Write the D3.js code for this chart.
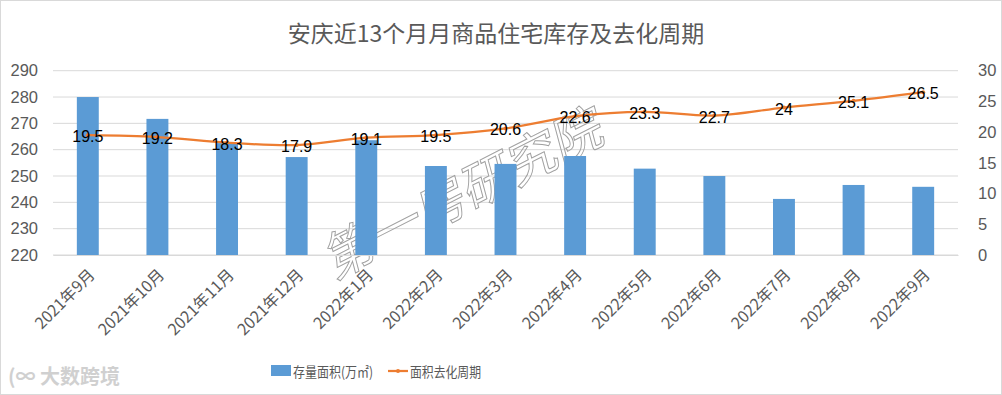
<!DOCTYPE html>
<html>
<head>
<meta charset="utf-8">
<script src="https://cdn.jsdelivr.net/npm/d3@7"></script>
<style>
  body { margin: 0; background: #fff; }
  text { font-family: "Noto Sans CJK SC", "Noto Sans", sans-serif; }
</style>
</head>
<body>
<svg id="chart" width="1002" height="395"></svg>
<script>
// data
const months = ["2021年9月","2021年10月","2021年11月","2021年12月","2022年1月","2022年2月","2022年3月",
                "2022年4月","2022年5月","2022年6月","2022年7月","2022年8月","2022年9月"];
const stock = [280, 271.7, 262.5, 257.2, 263.6, 253.8, 254.6, 257.6, 252.8, 250, 241.3, 246.6, 245.9];
const cycle = [19.5, 19.2, 18.3, 17.9, 19.1, 19.5, 20.6, 22.6, 23.3, 22.7, 24, 25.1, 26.5];
const leftTicks = [220, 230, 240, 250, 260, 270, 280, 290];
const rightTicks = [0, 5, 10, 15, 20, 25, 30];

const W = 1002, H = 395;
const m = {left: 53, right: 44, top: 70.7, bottom: 140};
const svg = d3.select("#chart");

svg.append("rect").attr("x", 0.5).attr("y", 0.5).attr("width", W - 1).attr("height", H - 1)
  .attr("fill", "#fff").attr("stroke", "#d9d9d9");

const x = d3.scaleBand().domain(months).range([m.left, W - m.right]).paddingInner(0.685).paddingOuter(0.3425);
const yL = d3.scaleLinear().domain([220, 290]).range([H - m.bottom, m.top]);
const yR = d3.scaleLinear().domain([0, 30]).range([H - m.bottom, m.top]);

// title
svg.append("text").attr("x", 496).attr("y", 42).attr("text-anchor", "middle")
  .attr("font-size", 23).attr("fill", "#595959").text("安庆近13个月月商品住宅库存及去化周期");

// grid
svg.append("g").selectAll("line").data(leftTicks).join("line")
  .attr("x1", m.left).attr("x2", W - m.right)
  .attr("y1", d => yL(d)).attr("y2", d => yL(d))
  .attr("stroke", "#d9d9d9").attr("stroke-width", 1);

// left axis
const axL = svg.append("g").attr("transform", `translate(${m.left},0)`)
  .call(d3.axisLeft(yL).tickValues(leftTicks).tickSize(0).tickPadding(15));
axL.select(".domain").remove();
axL.selectAll("text").attr("font-size", 16.5).attr("fill", "#595959")
  .style("font-family", "'Liberation Sans', sans-serif");

// right axis
const axR = svg.append("g").attr("transform", `translate(${W - m.right},0)`)
  .call(d3.axisRight(yR).tickValues(rightTicks).tickSize(0).tickPadding(20));
axR.select(".domain").remove();
axR.selectAll("text").attr("font-size", 16.5).attr("fill", "#595959")
  .style("font-family", "'Liberation Sans', sans-serif");

// watermark
svg.append("text").attr("transform", "translate(470,210) rotate(-27) skewX(-12)")
  .attr("text-anchor", "middle").attr("font-size", 51)
  .attr("fill", "none").attr("stroke", "#a0a0a0").attr("stroke-width", 1)
  .text("第一房研究院");

// bars
svg.append("g").selectAll("rect").data(months).join("rect")
  .attr("x", d => x(d)).attr("width", x.bandwidth())
  .attr("y", (d, i) => yL(stock[i])).attr("height", (d, i) => yL(220) - yL(stock[i]))
  .attr("fill", "#5b9bd5");

// x axis
const axX = svg.append("g").attr("transform", `translate(0,${H - m.bottom})`)
  .call(d3.axisBottom(x).tickSize(0));
axX.select(".domain").attr("stroke", "#d9d9d9");
axX.selectAll("text").attr("font-size", 16).attr("fill", "#595959")
  .attr("text-anchor", "end").attr("x", 0).attr("y", 0).attr("dy", "0.35em")
  .attr("transform", "translate(4,17) rotate(-45)");

// line
const line = d3.line()
  .x((d, i) => x(months[i]) + x.bandwidth() / 2)
  .y(d => yR(d))
  .curve(d3.curveCatmullRom.alpha(0.5));
svg.append("path").datum(cycle).attr("d", line)
  .attr("fill", "none").attr("stroke", "#ed7d31").attr("stroke-width", 2.25);
svg.append("g").selectAll("circle").data(cycle).join("circle")
  .attr("cx", (d, i) => x(months[i]) + x.bandwidth() / 2).attr("cy", d => yR(d))
  .attr("r", 2).attr("fill", "#ed7d31");

// data labels
svg.append("g").selectAll("text").data(cycle).join("text")
  .attr("x", (d, i) => x(months[i]) + x.bandwidth() / 2)
  .attr("y", d => yR(d) + 1.5)
  .attr("text-anchor", "middle").attr("dominant-baseline", "central")
  .attr("font-size", 16).attr("fill", "#000")
  .style("font-family", "'Liberation Sans', sans-serif")
  .text(d => d);

// legend
const lg = svg.append("g").attr("transform", "translate(0,371)");
lg.append("rect").attr("x", 271).attr("y", -6).attr("width", 20).attr("height", 11).attr("fill", "#5b9bd5");
lg.append("text").attr("x", 293).attr("y", 0).attr("dominant-baseline", "central")
  .attr("font-size", 14).attr("fill", "#595959")
  .attr("textLength", 80).attr("lengthAdjust", "spacingAndGlyphs").text("存量面积(万㎡)");
lg.append("line").attr("x1", 388).attr("x2", 408).attr("y1", 0).attr("y2", 0)
  .attr("stroke", "#ed7d31").attr("stroke-width", 2.25);
lg.append("circle").attr("cx", 398).attr("cy", 0).attr("r", 2).attr("fill", "#ed7d31");
lg.append("text").attr("x", 410).attr("y", 0).attr("dominant-baseline", "central")
  .attr("font-size", 14).attr("fill", "#595959")
  .attr("textLength", 71).attr("lengthAdjust", "spacingAndGlyphs").text("面积去化周期");

// corner logo watermark
svg.append("text").attr("x", 8).attr("y", 384).attr("font-size", 20).attr("font-weight", "bold")
  .attr("fill", "#d0d0d0").text("(∞ 大数跨境");
</script>
</body>
</html>
